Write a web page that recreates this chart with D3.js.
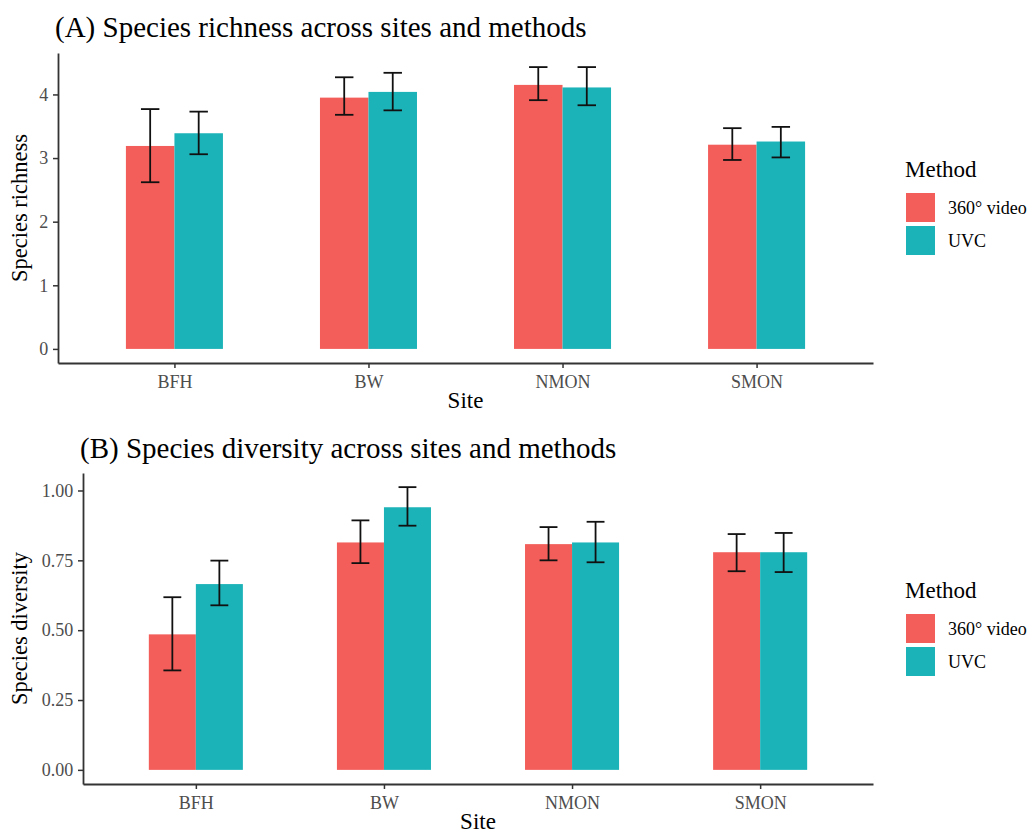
<!DOCTYPE html>
<html>
<head>
<meta charset="utf-8">
<script src="https://cdn.jsdelivr.net/npm/d3@7"></script>
<style>
  body { margin: 0; background: #fff; }
  text { font-family: "Liberation Serif", "Times New Roman", serif; }
</style>
</head>
<body>
<div id="chart"></div>
<script>
// data
var sites = ["BFH", "BW", "NMON", "SMON"];
var methods = ["360\u00B0 video", "UVC"];
var methodColors = ["#F35E5A", "#1CB3B8"];

// (A) species richness: mean, lower and upper error
var richVideo   = [3.19, 3.95, 4.15, 3.21];
var richVideoLo = [2.62, 3.68, 3.91, 2.97];
var richVideoHi = [3.77, 4.27, 4.43, 3.47];
var richUvc     = [3.39, 4.04, 4.11, 3.26];
var richUvcLo   = [3.06, 3.75, 3.83, 3.01];
var richUvcHi   = [3.73, 4.34, 4.43, 3.49];
var richTicks   = [0, 1, 2, 3, 4];

// (B) species diversity
var divVideo   = [0.485, 0.814, 0.808, 0.779];
var divVideoLo = [0.356, 0.740, 0.750, 0.711];
var divVideoHi = [0.618, 0.893, 0.869, 0.844];
var divUvc     = [0.665, 0.940, 0.814, 0.779];
var divUvcLo   = [0.589, 0.874, 0.743, 0.708];
var divUvcHi   = [0.749, 1.012, 0.888, 0.848];
var divTicks   = [0, 0.25, 0.5, 0.75, 1];

var svg = d3.select("#chart")
  .append("svg")
  .attr("width", 1033)
  .attr("height", 834);

svg.append("rect").attr("width", 1033).attr("height", 834).attr("fill", "#fff");

function drawPanel(p) {
  var rows = [];
  sites.forEach(function(s, i) {
    rows.push({site: s, m: 0, v: p.video[i], lo: p.videoLo[i], hi: p.videoHi[i]});
    rows.push({site: s, m: 1, v: p.uvc[i], lo: p.uvcLo[i], hi: p.uvcHi[i]});
  });

  var maxHi = d3.max(rows, d => d.hi);
  var pad = maxHi * 0.05;

  var x = d3.scalePoint().domain(sites).range([p.left, p.right]).padding(0.6);
  var y = d3.scaleLinear().domain([-pad, maxHi + pad]).range([p.bottom, p.top]);
  var step = x.step();
  var barW = step * 0.25;
  var capW = step * 0.095;

  var g = svg.append("g");

  // bars
  g.selectAll(".bar")
    .data(rows)
    .enter()
    .append("rect")
    .attr("x", d => x(d.site) + (d.m - 1) * barW)
    .attr("y", d => y(d.v))
    .attr("width", barW)
    .attr("height", d => y(0) - y(d.v))
    .attr("fill", d => methodColors[d.m]);

  // error bars
  var eb = g.selectAll(".err")
    .data(rows)
    .enter()
    .append("g")
    .attr("stroke", "#111")
    .attr("stroke-width", 1.8);
  eb.append("line")
    .attr("x1", d => x(d.site) + (d.m - 0.5) * barW)
    .attr("x2", d => x(d.site) + (d.m - 0.5) * barW)
    .attr("y1", d => y(d.lo))
    .attr("y2", d => y(d.hi));
  eb.append("line")
    .attr("x1", d => x(d.site) + (d.m - 0.5) * barW - capW / 2)
    .attr("x2", d => x(d.site) + (d.m - 0.5) * barW + capW / 2)
    .attr("y1", d => y(d.hi))
    .attr("y2", d => y(d.hi));
  eb.append("line")
    .attr("x1", d => x(d.site) + (d.m - 0.5) * barW - capW / 2)
    .attr("x2", d => x(d.site) + (d.m - 0.5) * barW + capW / 2)
    .attr("y1", d => y(d.lo))
    .attr("y2", d => y(d.lo));

  // axes
  var xAxis = g.append("g")
    .attr("transform", `translate(0, ${p.bottom})`)
    .call(d3.axisBottom(x).tickSize(5).tickSizeOuter(0));
  var yAxis = g.append("g")
    .attr("transform", `translate(${p.left}, 0)`)
    .call(d3.axisLeft(y).tickValues(p.ticks).tickFormat(p.fmt).tickSize(5).tickSizeOuter(0));

  [xAxis, yAxis].forEach(function(a) {
    a.select(".domain").attr("stroke", "#333").attr("stroke-width", 1.8);
    a.selectAll(".tick line").attr("stroke", "#333").attr("stroke-width", 1.5);
    a.selectAll(".tick text")
      .attr("fill", "#4D4D4D")
      .style("font-family", "Liberation Serif")
      .style("font-size", "18px");
  });
  xAxis.selectAll(".tick text").attr("dy", "0.95em");
  yAxis.selectAll(".tick text").attr("dx", "-0.1em");

  // axis titles
  g.append("text")
    .attr("x", (p.left + p.right) / 2)
    .attr("y", p.bottom + 45)
    .attr("text-anchor", "middle")
    .style("font-size", "23px")
    .text("Site");

  g.append("text")
    .attr("transform", `translate(27, ${(p.top + p.bottom) / 2}) rotate(-90)`)
    .attr("text-anchor", "middle")
    .style("font-size", "22.5px")
    .text(p.ylab);

  // panel title
  g.append("text")
    .attr("x", p.left - 3)
    .attr("y", p.titleY)
    .style("font-size", "29px")
    .text(p.title);

  // legend
  var leg = g.append("g").attr("transform", `translate(906, ${p.legY})`);
  leg.append("text")
    .attr("x", -1)
    .attr("y", 0)
    .style("font-size", "23px")
    .text("Method");
  methods.forEach(function(m, i) {
    leg.append("rect")
      .attr("x", 0)
      .attr("y", 16 + i * 33)
      .attr("width", 29)
      .attr("height", 29)
      .attr("fill", methodColors[i]);
    leg.append("text")
      .attr("x", 42)
      .attr("y", 37 + i * 33)
      .style("font-size", "18px")
      .text(m);
  });
}

drawPanel({
  video: richVideo, videoLo: richVideoLo, videoHi: richVideoHi,
  uvc: richUvc, uvcLo: richUvcLo, uvcHi: richUvcHi,
  ticks: richTicks, fmt: d3.format("d"),
  left: 58, right: 873, top: 53, bottom: 363,
  title: "(A) Species richness across sites and methods", titleY: 37,
  ylab: "Species richness", legY: 177
});

drawPanel({
  video: divVideo, videoLo: divVideoLo, videoHi: divVideoHi,
  uvc: divUvc, uvcLo: divUvcLo, uvcHi: divUvcHi,
  ticks: divTicks, fmt: d3.format(".2f"),
  left: 83, right: 873, top: 473, bottom: 784,
  title: "(B) Species diversity across sites and methods", titleY: 458,
  ylab: "Species diversity", legY: 598
});
</script>
</body>
</html>
